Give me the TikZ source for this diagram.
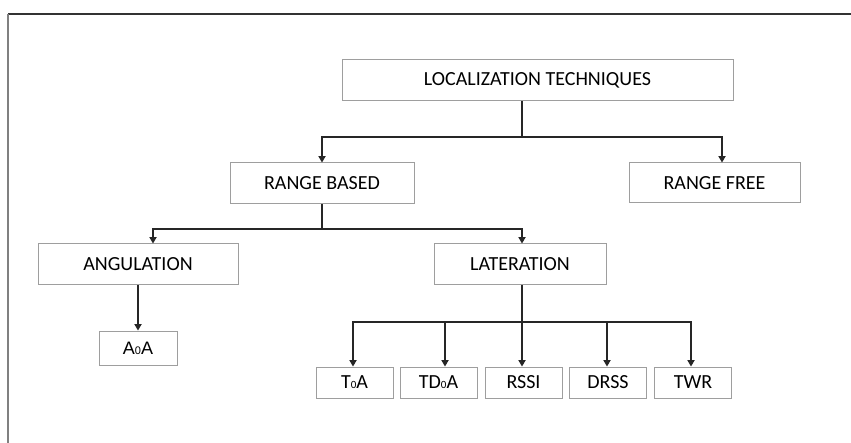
\documentclass[tikz,border=0pt]{standalone}
\usepackage{fontspec}
\setmainfont{Carlito}
\newfontfamily\arialfont{Liberation Sans}
\usetikzlibrary{arrows.meta}
\newcommand{\pic}[1]{{\fontsize{5.5}{6}\selectfont #1}}

\begin{document}
\begin{tikzpicture}[x=0.5pt,y=-0.5pt,font=\fontsize{10}{12}\selectfont]
\tikzstyle{casella} = [draw=black!38, line width=0.5pt, inner sep=0pt, minimum height=20.5pt]
\tikzstyle{freccia} = [-{Triangle[width=3.6pt,length=3.2pt]}, draw=black!85, line width=0.55pt]
\tikzstyle{linea} = [draw=black!85, line width=0.55pt]
\useasboundingbox (0,0) rectangle (851,443);
% cornice
\draw[black!80, line width=0.8pt] (8,14) -- (851,14);
\draw[black!50, line width=0.8pt] (8,14) -- (8,443);
% caselle
\node[casella, minimum width=195.5pt] (loc) at (537.5,80.5) {LOCALIZATION TECHNIQUES};
\node[casella, minimum width=92pt] (rb) at (322,183.5) {RANGE BASED};
\node[casella, minimum width=85.5pt, minimum height=20pt] (rf) at (714.5,183) {RANGE FREE};
\node[casella, minimum width=100pt] (ang) at (138,264.5) {ANGULATION};
\node[casella, minimum width=86pt] (lat) at (520,264.5) {LATERATION};
\node[casella, minimum width=39pt, minimum height=17pt, font=\arialfont\fontsize{9}{10}\selectfont] (aoa) at (138,348) {A\pic{0}A};
\node[casella, minimum width=38.5pt, minimum height=15.5pt] (toa) at (354.5,382.5) {T\pic{0}A};
\node[casella, minimum width=38.5pt, minimum height=15.5pt] (tdoa) at (438.5,382.5) {TD\pic{0}A};
\node[casella, minimum width=38.5pt, minimum height=15.5pt] (rssi) at (523.5,382.5) {RSSI};
\node[casella, minimum width=38.5pt, minimum height=15.5pt] (drss) at (608,382.5) {DRSS};
\node[casella, minimum width=38.5pt, minimum height=15.5pt] (twr) at (693,382.5) {TWR};
% giunzioni
\coordinate (j1) at (522,137);
\coordinate (j1a) at (322,137);
\coordinate (j1b) at (722,137);
\coordinate (j2) at (322,229);
\coordinate (j2a) at (153,229);
\coordinate (j2b) at (522,229);
\coordinate (j3) at (522,322);
\coordinate (j3a) at (353,322);
\coordinate (j3b) at (445,322);
\coordinate (j3d) at (607,322);
\coordinate (j3e) at (691,322);
% collegamenti
\draw[linea] (j1 |- loc.south) -- (j1);
\draw[freccia] (j1) -- (j1a) -- (j1a |- rb.north);
\draw[freccia] (j1) -- (j1b) -- (j1b |- rf.north);
\draw[linea] (rb.south) -- (j2);
\draw[freccia] (j2) -- (j2a) -- (j2a |- ang.north);
\draw[freccia] (j2) -- (j2b) -- (j2b |- lat.north);
\draw[freccia] (ang.south) -- (aoa.north);
\draw[linea] (j3 |- lat.south) -- (j3);
\draw[freccia] (j3) -- (j3a) -- (j3a |- toa.north);
\draw[freccia] (j3b) -- (j3b |- tdoa.north);
\draw[freccia] (j3) -- (j3 |- rssi.north);
\draw[freccia] (j3d) -- (j3d |- drss.north);
\draw[freccia] (j3) -- (j3e) -- (j3e |- twr.north);
\end{tikzpicture}
\end{document}
